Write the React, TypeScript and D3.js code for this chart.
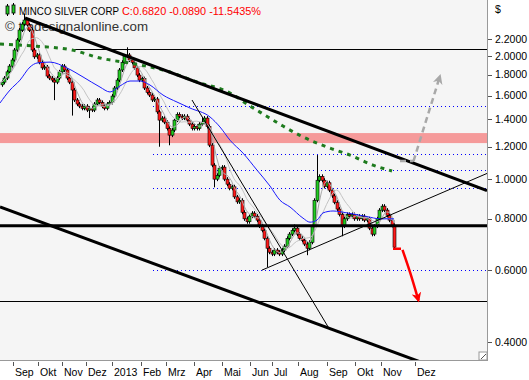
import React from "react";
import * as d3 from "d3";

// ---- data (2-day candles, index based) ----
const closes: number[] = [
  1.726, 1.766, 1.829, 1.889, 1.955, 2.068, 2.188, 2.314, 2.393, 2.448,
  2.380, 2.314, 2.068, 1.990, 2.011, 1.930, 1.870, 1.880, 1.786, 1.766,
  1.746, 1.726, 1.766, 1.829, 1.889, 1.848, 1.766, 1.726, 1.651, 1.561,
  1.526, 1.508, 1.490, 1.508, 1.475, 1.490, 1.475, 1.526, 1.561, 1.540,
  1.508, 1.490, 1.526, 1.540, 1.596, 1.670, 1.746, 1.848, 1.930, 2.000,
  2.011, 1.955, 1.930, 1.870, 1.796, 1.746, 1.760, 1.670, 1.630, 1.605,
  1.561, 1.570, 1.460, 1.394, 1.410, 1.378, 1.330, 1.281, 1.318, 1.394,
  1.440, 1.425, 1.410, 1.425, 1.394, 1.363, 1.330, 1.345, 1.330, 1.363,
  1.378, 1.410, 1.345, 1.211, 1.082, 1.000, 1.022, 1.064, 1.070, 1.000,
  0.972, 0.950, 0.958, 0.905, 0.880, 0.888, 0.830, 0.800, 0.787, 0.812,
  0.826, 0.812, 0.794, 0.768, 0.750, 0.717, 0.678, 0.663, 0.656, 0.671,
  0.663, 0.656, 0.671, 0.686, 0.717, 0.734, 0.750, 0.759, 0.734, 0.717,
  0.709, 0.694, 0.678, 0.701, 0.765, 0.888, 0.994, 1.016, 0.994, 0.960,
  0.980, 0.940, 0.910, 0.878, 0.845, 0.820, 0.768, 0.800, 0.820, 0.812,
  0.820, 0.800, 0.812, 0.800, 0.812, 0.794, 0.800, 0.759, 0.734, 0.768,
  0.800, 0.840, 0.859, 0.840, 0.816, 0.794, 0.771, 0.682,
];
const firstOpen = 1.70;
const highWicks: [number, number][] = [[9, 2.54], [50, 2.10], [80, 1.42], [117, 0.775], [126, 1.145]];
const lowWicks: [number, number][] = [
  [21, 1.56], [28, 1.43], [35, 1.41], [63, 1.20], [67, 1.21], [85, 0.955],
  [106, 0.61], [122, 0.652], [136, 0.725], [148, 0.725], [157, 0.675],
];

const blueIdx = [-0.6, 3.4, 7.4, 11.4, 14.2, 19.4, 26.2, 32.6, 39.4, 43.4, 47.4, 51.4, 55.4, 59.4, 64.6, 70.2, 75.4, 83.4, 87.4, 91.4, 96.6, 102.2, 107.4, 111.4, 115.4, 120.6, 123.4, 126.2, 128.6, 132.6, 138.2, 146.2, 151.4, 157];
const blueVal = [1.535, 1.651, 1.746, 1.879, 1.922, 1.932, 1.869, 1.777, 1.679, 1.633, 1.689, 1.737, 1.737, 1.698, 1.605, 1.543, 1.492, 1.419, 1.341, 1.245, 1.158, 1.052, 0.962, 0.888, 0.855, 0.803, 0.785, 0.794, 0.827, 0.836, 0.827, 0.81, 0.80, 0.80];

const greenIdx = [-0.6, 12.6, 28.2, 39.4, 53.4, 64.6, 78.2, 91.4, 99.4, 104.6, 112.6, 120.6, 130.2, 139.4, 148.6, 156.2];
const greenVal = [2.139, 2.115, 2.068, 1.977, 1.911, 1.848, 1.727, 1.624, 1.509, 1.443, 1.348, 1.268, 1.198, 1.145, 1.082, 1.047];

const yTicks = [2.2, 2.0, 1.8, 1.6, 1.4, 1.2, 1.0, 0.8, 0.6, 0.4];
const monthLabels = ["Sep", "Okt", "Nov", "Dez", "2013", "Feb", "Mrz", "Apr", "Mai", "Jun", "Jul", "Aug", "Sep", "Okt", "Nov", "Dez"];
const monthIdx = [4.5, 14.7, 24.3, 33.7, 44.3, 55.9, 65.7, 77, 88.1, 99.4, 108.3, 118.5, 130.3, 141.5, 151.8, 165.5];

const dottedLevels = [1.51, 1.155, 1.052, 0.951, 0.60];
const dottedFrom = 60.6;
const band = [1.225, 1.296];
const supportLevel = 0.769;
const thinLevels = [2.076, 0.5035];
const thinFrom = [28.2, -0.6];

// trend lines: [idx, price] pairs
const upperChannel: [number, number][] = [[9.4, 2.476], [131.4, 1.304]];
const lowerChannel: [number, number][] = [[-0.6, 0.855], [163.4, 0.3654]];
const steepLine: [number, number][] = [[76.2, 1.561], [131.4, 0.4278]];
const risingLine: [number, number][] = [[104.2, 0.5995], [194.2, 1.0327]];

const redPathIdx = [156.6, 159.8];
const redPathVal = [0.676, 0.676];
const redArrowIdx = [160.4, 163.5, 166.8];
const redArrowVal = [0.672, 0.59, 0.505];
const grayPathIdx = [159.4, 164.6];
const grayPathVal = [1.107, 1.107];
const grayArrowIdx = [164.8, 175.4];
const grayArrowVal = [1.107, 1.787];

const titleName = "MINCO SILVER CORP";
const titleQuote = "C:0.6820 -0.0890 -11.5435%";
const watermark = "\u00a9 tradesignalonline.com";

// ---- layout ----
const W = 529, H = 380;
const PR = 487, PB = 360;
const FONT = "'Liberation Sans', Arial, sans-serif";

const x = d3.scaleLinear().domain([-0.6, 194.2]).range([0, PR]);
const y = d3.scaleLog().domain([0.3615, 2.74]).range([PB, 0]);

function sma(arr: number[], n: number) {
  return arr.map((_, i) => {
    const s = arr.slice(Math.max(0, i - n + 1), i + 1);
    return d3.mean(s) as number;
  });
}

function extendLine(p: [number, number][], toIdx: number) {
  const x1 = x(p[0][0]), y1 = y(p[0][1]), x2 = x(p[1][0]), y2 = y(p[1][1]);
  const xe = x(toIdx);
  const ye = y1 + ((y2 - y1) * (xe - x1)) / (x2 - x1);
  return { x1, y1, x2: xe, y2: ye };
}

export default function App() {
  const candles = closes.map((c, i) => {
    const o = i === 0 ? firstOpen : closes[i - 1];
    const hw = highWicks.find((h) => h[0] === i);
    const lw = lowWicks.find((l) => l[0] === i);
    return { i, o, c, hi: hw ? hw[1] : null, lo: lw ? lw[1] : null };
  });
  const ma1 = sma(closes, 5);
  const ma2 = sma(closes, 10);
  const lineIdx = d3.line<number>().x((_, k) => x(k)).y((v) => y(v));
  const curve = (idx: number[]) =>
    d3.line<number>().x((_, k) => x(idx[k])).y((v) => y(v)).curve(d3.curveMonotoneX);

  const up = extendLine(upperChannel, 194.2);
  const lowC = extendLine(lowerChannel, 194.2);
  const rise = extendLine(risingLine, 194.2);
  const steep = extendLine(steepLine, steepLine[1][0]);

  return (
    <div style={{ position: "absolute", left: 0, top: 0, width: W, height: H }}>
      <svg width={W} height={H} style={{ display: "block", background: "#fff" }}>
        <defs>
          <clipPath id="plot">
            <rect x={0} y={0} width={PR} height={PB} />
          </clipPath>
          <marker id="redHead" viewBox="0 0 10 10" refX={8} refY={5} markerWidth={4} markerHeight={4} orient="auto">
            <path d="M0,0 L10,5 L0,10 L3,5 z" fill="#ff0000" />
          </marker>
          <marker id="grayHead" viewBox="0 0 10 10" refX={8} refY={5} markerWidth={4} markerHeight={4} orient="auto">
            <path d="M0,0 L10,5 L0,10 L3,5 z" fill="#a8a8a8" />
          </marker>
        </defs>
        <rect x={0} y={0} width={PR} height={PB} fill="#f5f5f5" />
        <g clipPath="url(#plot)">
          <rect x={0} y={y(band[1])} width={PR} height={y(band[0]) - y(band[1])} fill="#f59a9a" />
          {dottedLevels.map((lv, k) => (
            <line key={k} x1={x(dottedFrom)} x2={PR} y1={Math.round(y(lv)) + 0.5} y2={Math.round(y(lv)) + 0.5}
              stroke="#0000ff" strokeWidth={1} strokeDasharray="1 3" />
          ))}
          {thinLevels.map((lv, k) => (
            <line key={k} x1={x(thinFrom[k])} x2={PR} y1={Math.round(y(lv)) + 0.5} y2={Math.round(y(lv)) + 0.5}
              stroke="#000" strokeWidth={1} />
          ))}
          <text x={5} y={31} fontFamily={FONT} fontSize={12.5} fill="#333" textLength={143} lengthAdjust="spacingAndGlyphs">{watermark}</text>
          {candles.map((d) => {
            const cx = Math.round(x(d.i)) + 0.5;
            const top = y(Math.max(d.o, d.c));
            const bot = y(Math.min(d.o, d.c));
            const hiY = d.hi !== null ? y(d.hi) : top - 2;
            const loY = d.lo !== null ? y(d.lo) : bot + 2;
            return (
              <g key={d.i}>
                <line x1={cx} x2={cx} y1={hiY} y2={loY} stroke="#000" strokeWidth={1} />
                <rect x={cx - 1.5} y={top} width={3} height={Math.max(1, bot - top)}
                  fill={d.c >= d.o ? "#22cc22" : "#ff1a1a"} stroke="#000" strokeWidth={0.6} />
              </g>
            );
          })}
          <path d={lineIdx(ma2) || ""} fill="none" stroke="#c4c4c4" strokeWidth={1} />
          <path d={lineIdx(ma1) || ""} fill="none" stroke="#a8a8a8" strokeWidth={1} />
          <path d={curve(blueIdx)(blueVal) || ""} fill="none" stroke="#1a1aff" strokeWidth={1} />
          <path d={curve(greenIdx)(greenVal) || ""} fill="none" stroke="#1e7b1e" strokeWidth={3} strokeDasharray="4 5" />
          <line x1={0} x2={PR} y1={y(supportLevel)} y2={y(supportLevel)} stroke="#000" strokeWidth={3} />
          <line {...up} stroke="#000" strokeWidth={3} />
          <line {...lowC} stroke="#000" strokeWidth={3} />
          <line {...rise} stroke="#000" strokeWidth={1} />
          <line {...steep} stroke="#000" strokeWidth={1} />
          <path d={curve(redPathIdx)(redPathVal) || ""} fill="none" stroke="#ff0000" strokeWidth={2.5} />
          <path d={curve(redArrowIdx)(redArrowVal) || ""} fill="none" stroke="#ff0000" strokeWidth={2.5} markerEnd="url(#redHead)" />
          <path d={curve(grayPathIdx)(grayPathVal) || ""} fill="none" stroke="#a8a8a8" strokeWidth={2.5} strokeDasharray="6 4" />
          <path d={curve(grayArrowIdx)(grayArrowVal) || ""} fill="none" stroke="#a8a8a8" strokeWidth={2.5} strokeDasharray="6 4" markerEnd="url(#grayHead)" />
        </g>
        {/* title */}
        <g>
          <line x1={7.5} x2={7.5} y1={4} y2={16} stroke="#000" />
          <rect x={6} y={6} width={3} height={8} fill="#22cc22" stroke="#000" strokeWidth={0.8} />
          <line x1={13.5} x2={13.5} y1={3} y2={15} stroke="#000" />
          <rect x={12} y={5} width={3} height={8} fill="#22cc22" stroke="#000" strokeWidth={0.8} />
          <text x={19} y={15} fontFamily={FONT} fontSize={10.5} fill="#000" textLength={100} lengthAdjust="spacingAndGlyphs">{titleName}</text>
          <text x={122} y={15} fontFamily={FONT} fontSize={10.5} fill="#ff0000" textLength={139} lengthAdjust="spacingAndGlyphs">{titleQuote}</text>
        </g>
        {/* frame */}
        <line x1={PR + 0.5} x2={PR + 0.5} y1={0} y2={PB + 1} stroke="#999" />
        <line x1={0} x2={PR + 1} y1={PB + 0.5} y2={PB + 0.5} stroke="#999" />
        <rect x={PR - 8} y={PB - 8} width={8} height={8} fill="#fff" stroke="#999" />
        <line x1={PR - 6} x2={PR - 1} y1={PB - 1} y2={PB - 6} stroke="#555" />
        {/* right axis */}
        <text x={495} y={13} fontFamily={FONT} fontSize={10.5} fill="#000">$</text>
        {yTicks.map((t) => (
          <g key={t}>
            <line x1={PR + 1} x2={PR + 5} y1={Math.round(y(t)) + 0.5} y2={Math.round(y(t)) + 0.5} stroke="#555" />
            <text x={495} y={y(t)} dy="0.35em" fontFamily={FONT} fontSize={10.5} fill="#000">{t.toFixed(4)}</text>
          </g>
        ))}
        {/* bottom axis */}
        {monthLabels.map((m, k) => {
          const tx = Math.round(x(monthIdx[k])) + 0.5;
          return (
            <g key={k}>
              <line x1={tx} x2={tx} y1={PB + 2} y2={PB + 6} stroke="#555" />
              <text x={tx + 1.5} y={376} fontFamily={FONT} fontSize={10.5} fill="#000">{m}</text>
            </g>
          );
        })}
      </svg>
    </div>
  );
}
